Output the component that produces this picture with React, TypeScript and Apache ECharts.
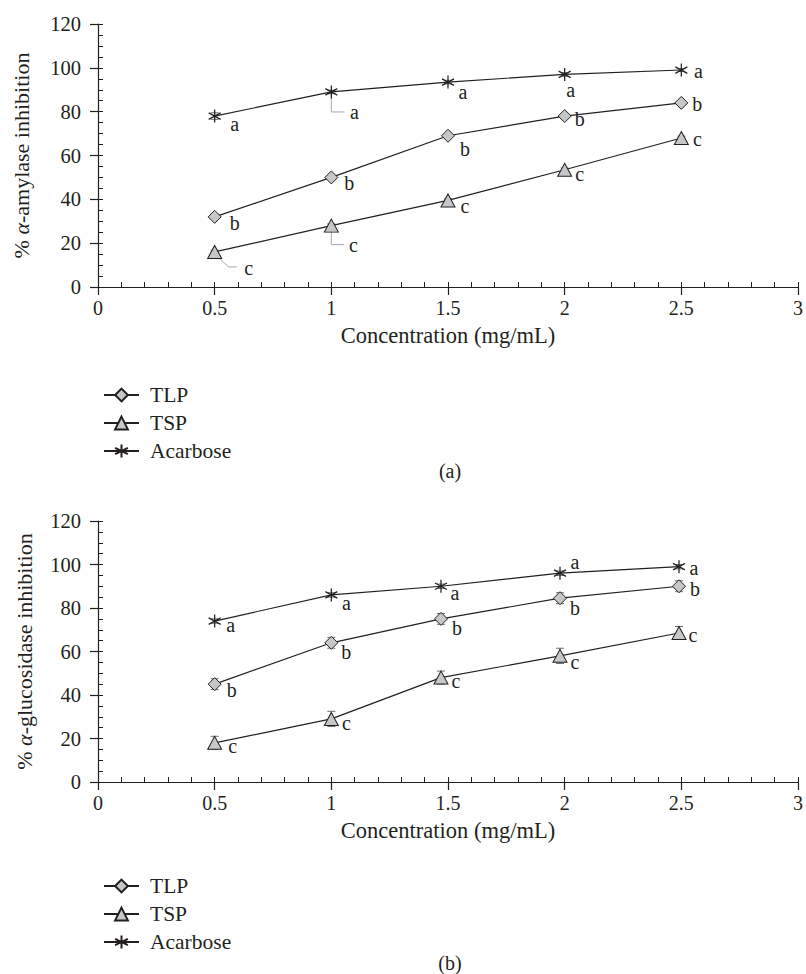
import React, { useEffect, useRef } from "react";
import * as echarts from "echarts";

// ---------- data ----------
const concentrationsA = [0.5, 1, 1.5, 2, 2.5];
const concentrationsB = [0.5, 1, 1.47, 1.98, 2.49];

const amylaseTLP = [32, 50, 69, 78, 84];
const amylaseTSP = [16, 28, 39.5, 53.5, 68];
const amylaseAcarbose = [78, 89, 93.5, 97, 99];
const amylaseTLPErr = [1.2, 0.8, 0.8, 0.8, 0.8];
const amylaseTSPErr = [0.8, 0.8, 0.8, 0.8, 0.8];
const amylaseAcarboseErr = [1.5, 0.8, 0.8, 0.8, 0.6];

const glucosidaseTLP = [45, 64, 75, 84.5, 90];
const glucosidaseTSP = [18, 29, 48, 58, 68.5];
const glucosidaseAcarbose = [74, 86, 90, 96, 99];
const glucosidaseTLPErr = [2.5, 2.5, 2.5, 2.5, 2.5];
const glucosidaseTSPErr = [3, 3.5, 3, 3.5, 3];
const glucosidaseAcarboseErr = [1, 1, 1, 1, 1];

const lettersTLP = ["b", "b", "b", "b", "b"];
const lettersTSP = ["c", "c", "c", "c", "c"];
const lettersAcarbose = ["a", "a", "a", "a", "a"];

const seriesNames = ["TLP", "TSP", "Acarbose"];
const yAxisNameA = "% {i|α}-amylase inhibition";
const yAxisNameB = "% {i|α}-glucosidase inhibition";
const xAxisName = "Concentration (mg/mL)";
const captions = ["(a)", "(b)"];

// ---------- layout / style (pixels) ----------
const FONT = "Liberation Serif";
const INK = "#231f20";
const FILL = "#c6c7c8";
const ASTERISK = "path://M5,0L5,10M0.67,2.5L9.33,7.5M0.67,7.5L9.33,2.5";

const offsetsA = {
  TLP: [[20, 6], [18, 6], [17, 13], [15, 3], [16, 1]],
  TSP: [[34, 16], [22, 19], [17, 6], [15, 4], [16, 1]],
  Acarbose: [[20, 8], [23, 20], [15, 10], [6, 16], [17, 1]],
};
const offsetsB = {
  TLP: [[17, 6], [15, 9], [16, 9], [15, 10], [16, 3]],
  TSP: [[18, 3], [15, 4], [15, 3], [15, 6], [14, 2]],
  Acarbose: [[16, 4], [15, 8], [14, 7], [15, -11], [15, 1]],
};
const leadersA = [
  { name: "Acarbose", i: 1, path: [[0, 6], [0, 20], [13, 20]] },
  { name: "TSP", i: 0, path: [[1, 3], [14, 15], [22, 15]] },
  { name: "TSP", i: 1, path: [[0, 5], [0, 19], [13, 19]] },
];

const gridsLayout = [
  { left: 98, top: 24, width: 704, height: 263 },
  { left: 98, top: 521, width: 704, height: 261 },
];

function buildAxes(gi: number, yName: string, nameGapY: number) {
  const axisLine = { lineStyle: { color: INK, width: 1.2 } };
  const xAxes = [
    {
      type: "value", gridIndex: gi, min: 0, max: 3, interval: 0.5, position: "bottom",
      axisLine: { ...axisLine, onZero: false },
      axisTick: { show: true, inside: false, length: 8, lineStyle: { color: INK, width: 1.2 } },
      axisLabel: { margin: 11, fontSize: 20, fontFamily: FONT, color: INK },
      splitLine: { show: false },
      name: xAxisName, nameLocation: "middle", nameGap: 37,
      nameTextStyle: { fontSize: 22.5, fontFamily: FONT, color: INK },
    },
    {
      type: "value", gridIndex: gi, min: 0, max: 3, interval: 0.1, position: "bottom",
      axisLine: { show: false },
      axisTick: { show: true, inside: true, length: 5, lineStyle: { color: INK, width: 1 } },
      axisLabel: { show: false }, splitLine: { show: false },
    },
  ];
  const yAxes = [
    {
      type: "value", gridIndex: gi, min: 0, max: 120, interval: 20, position: "left",
      axisLine: { show: true, ...axisLine, onZero: false },
      axisTick: { show: true, inside: false, length: 8, lineStyle: { color: INK, width: 1.2 } },
      axisLabel: { margin: 17, fontSize: 20.5, fontFamily: FONT, color: INK },
      splitLine: { show: false },
      name: yName, nameLocation: "middle", nameGap: nameGapY, nameRotate: 90,
      nameTextStyle: {
        fontSize: 22, fontFamily: FONT, color: INK,
        rich: { i: { fontSize: 22, fontFamily: FONT, color: INK, fontStyle: "italic" } },
      },
    },
    {
      type: "value", gridIndex: gi, min: 0, max: 120, interval: 5, position: "left",
      axisLine: { show: false },
      axisTick: { show: true, inside: true, length: 5, lineStyle: { color: INK, width: 1 } },
      axisLabel: { show: false }, splitLine: { show: false },
    },
  ];
  return { xAxes, yAxes };
}

function lineSeries(
  name: string, gi: number, xs: number[], ys: number[], letters: string[], offsets: number[][]
) {
  const symbol = name === "TLP" ? "diamond" : name === "TSP" ? "triangle" : ASTERISK;
  const symbolSize = name === "TLP" ? [13, 13] : name === "TSP" ? [14, 13] : [12, 13];
  const itemStyle =
    name === "Acarbose"
      ? { color: INK, borderColor: INK, borderWidth: 1.3 }
      : { color: FILL, borderColor: INK, borderWidth: 1 };
  return {
    type: "line", name, xAxisIndex: gi * 2, yAxisIndex: gi * 2, z: 3,
    symbol, symbolSize, itemStyle,
    lineStyle: { color: INK, width: 1.2 },
    emphasis: { disabled: true },
    label: {
      show: true, position: "inside", align: "center", verticalAlign: "middle",
      fontSize: 20, lineHeight: 17, fontFamily: FONT, color: INK,
    },
    data: xs.map((x, i) => ({
      value: [x, ys[i]],
      label: { formatter: letters[i], offset: offsets[i] },
    })),
  };
}

function errorSeries(gi: number, xs: number[], ys: number[], errs: number[]) {
  return {
    type: "custom", xAxisIndex: gi * 2, yAxisIndex: gi * 2, z: 2, silent: true,
    data: xs.map((x, i) => [x, ys[i] - errs[i], ys[i] + errs[i]]),
    renderItem: (params: any, api: any) => {
      const lo = api.coord([api.value(0), api.value(1)]);
      const hi = api.coord([api.value(0), api.value(2)]);
      const w = 4;
      const style = { stroke: "#6d6e70", lineWidth: 1 };
      return {
        type: "group",
        children: [
          { type: "line", shape: { x1: lo[0], y1: lo[1], x2: hi[0], y2: hi[1] }, style },
          { type: "line", shape: { x1: hi[0] - w, y1: hi[1], x2: hi[0] + w, y2: hi[1] }, style },
          { type: "line", shape: { x1: lo[0] - w, y1: lo[1], x2: lo[0] + w, y2: lo[1] }, style },
        ],
      };
    },
  };
}

function leaderSeries(gi: number, xs: number[], valueMap: Record<string, number[]>, leaders: any[]) {
  return {
    type: "custom", xAxisIndex: gi * 2, yAxisIndex: gi * 2, z: 1, silent: true,
    data: leaders.map((l) => [xs[l.i], valueMap[l.name][l.i]]),
    renderItem: (params: any, api: any) => {
      const p = api.coord([api.value(0), api.value(1)]);
      const path = leaders[params.dataIndex].path;
      return {
        type: "polyline",
        shape: { points: path.map((d: number[]) => [p[0] + d[0], p[1] + d[1]]) },
        style: { stroke: "#a7a9ac", lineWidth: 1, fill: "none" },
      };
    },
  };
}

export default function App() {
  const ref = useRef<HTMLDivElement>(null);
  useEffect(() => {
    if (!ref.current) return;
    const chart = echarts.init(ref.current, undefined, { renderer: "svg" });
    const a = buildAxes(0, yAxisNameA, 66);
    const b = buildAxes(1, yAxisNameB, 63);
    const mapA: Record<string, number[]> = { TLP: amylaseTLP, TSP: amylaseTSP, Acarbose: amylaseAcarbose };
    const mapB: Record<string, number[]> = { TLP: glucosidaseTLP, TSP: glucosidaseTSP, Acarbose: glucosidaseAcarbose };
    const errA: Record<string, number[]> = { TLP: amylaseTLPErr, TSP: amylaseTSPErr, Acarbose: amylaseAcarboseErr };
    const errB: Record<string, number[]> = { TLP: glucosidaseTLPErr, TSP: glucosidaseTSPErr, Acarbose: glucosidaseAcarboseErr };
    const lettersMap: Record<string, string[]> = { TLP: lettersTLP, TSP: lettersTSP, Acarbose: lettersAcarbose };

    const series: any[] = [];
    seriesNames.forEach((n) => {
      series.push(errorSeries(0, concentrationsA, mapA[n], errA[n]));
      series.push(errorSeries(1, concentrationsB, mapB[n], errB[n]));
    });
    series.push(leaderSeries(0, concentrationsA, mapA, leadersA));
    seriesNames.forEach((n) => {
      series.push(lineSeries(n, 0, concentrationsA, mapA[n], lettersMap[n], (offsetsA as any)[n]));
      series.push(lineSeries(n, 1, concentrationsB, mapB[n], lettersMap[n], (offsetsB as any)[n]));
    });

    const legendBase = {
      orient: "vertical", left: 98, data: seriesNames,
      itemWidth: 35, itemHeight: 16, itemGap: 6,
      selectedMode: false,
      textStyle: { fontSize: 21.5, fontFamily: FONT, color: INK, padding: [0, 0, 0, 6] },
    };

    chart.setOption({
      animation: false,
      backgroundColor: "#ffffff",
      textStyle: { fontFamily: FONT },
      grid: gridsLayout.map((g) => ({ ...g, containLabel: false })),
      xAxis: [...a.xAxes, ...b.xAxes],
      yAxis: [...a.yAxes, ...b.yAxes],
      legend: [
        { ...legendBase, top: 379 },
        { ...legendBase, top: 870 },
      ],
      graphic: [
        { type: "text", x: 450, y: 471, style: { text: captions[0], align: "center", verticalAlign: "middle", fontSize: 20, fontFamily: FONT, fill: INK } },
        { type: "text", x: 450, y: 963, style: { text: captions[1], align: "center", verticalAlign: "middle", fontSize: 20, fontFamily: FONT, fill: INK } },
      ],
      series,
    });
    return () => chart.dispose();
  }, []);
  return (
    <div
      ref={ref}
      style={{ position: "absolute", left: 0, top: 0, width: 806, height: 974, background: "#fff" }}
    />
  );
}
